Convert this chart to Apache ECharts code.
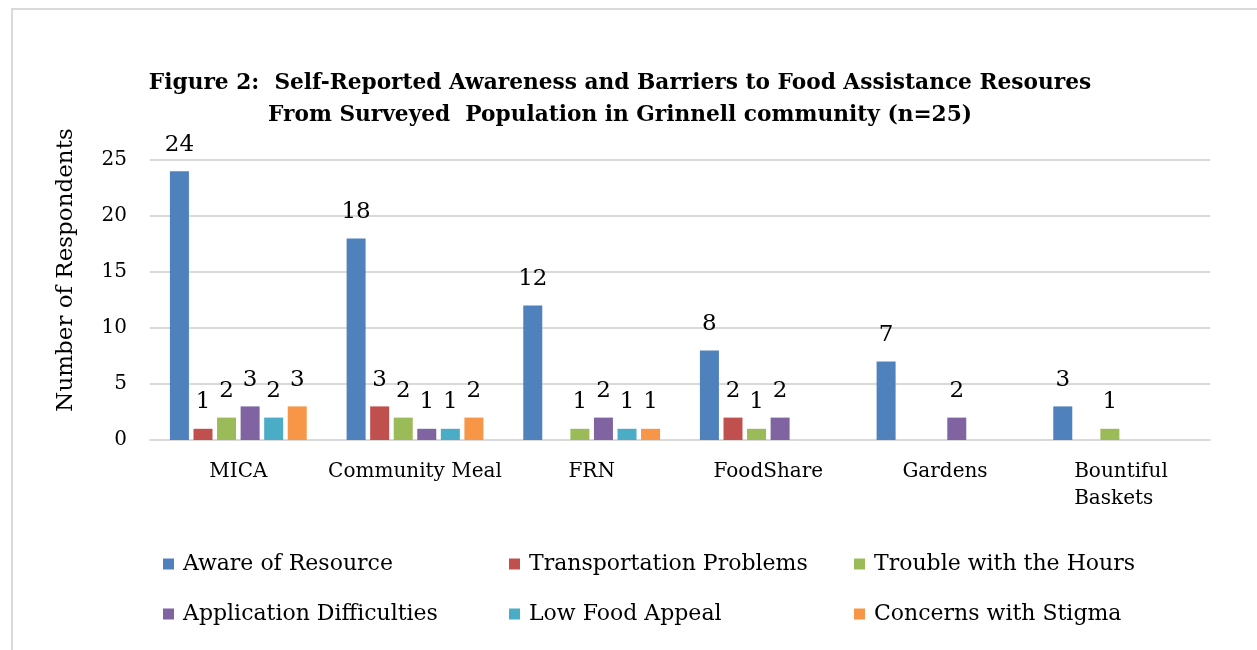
<!DOCTYPE html>
<html><head><meta charset="utf-8">
<script src="https://cdn.jsdelivr.net/npm/echarts@6/dist/echarts.min.js"></script>
<style>
html,body{margin:0;padding:0;background:#fff;}
#frame{position:absolute;left:11px;top:8px;width:1260px;height:660px;border:2px solid #d9d9d9;box-sizing:border-box;}
#c{position:absolute;left:0;top:0;width:1257px;height:650px;}
</style></head>
<body><div id="frame"></div><div id="c"></div>
<script>
const categories = ['MICA','Community Meal','FRN','FoodShare','Gardens','Bountiful\nBaskets'];
const seriesNames = ['Aware of Resource','Transportation Problems','Trouble with the Hours','Application Difficulties','Low Food Appeal','Concerns with Stigma'];
const aware = [24, 18, 12, 8, 7, 3];
const transport = [1, 3, null, 2, null, null];
const hours = [2, 2, 1, 1, null, 1];
const application = [3, 1, 2, 2, 2, null];
const lowAppeal = [2, 1, 1, null, null, null];
const stigma = [3, 2, 1, null, null, null];
const yTicks = [0, 5, 10, 15, 20, 25];
const colors = ['#4F81BD','#C0504D','#9BBB59','#8064A2','#4BACC6','#F79646'];
const values = [aware, transport, hours, application, lowAppeal, stigma];

const FONT = 'DejaVu Serif';
const chart = echarts.init(document.getElementById('c'));
const legendPos = [[163,553],[509,553],[854,553],[163,603],[509,603],[854,603]];
chart.setOption({
  backgroundColor: 'transparent',
  animation: false,
  title: {
    text: 'Figure 2:  Self-Reported Awareness and Barriers to Food Assistance Resoures\nFrom Surveyed  Population in Grinnell community (n=25)',
    left: 620, top: 67, textAlign: 'center', padding: 0,
    textStyle: {fontFamily: FONT, fontWeight: 'bold', fontSize: 21.7, color: '#000', lineHeight: 32}
  },
  legend: seriesNames.map((n, i) => ({
    data: [n], left: legendPos[i][0], top: legendPos[i][1], padding: 0,
    itemWidth: 11, itemHeight: 11, icon: 'rect', itemGap: 0,
    textStyle: {fontFamily: FONT, fontSize: 22, color: '#000', padding: [0,0,0,4]}
  })),
  grid: {left: 150, right: 47, top: 160, bottom: 210, containLabel: false},
  xAxis: {
    type: 'category', data: categories,
    axisLine: {show: true, lineStyle: {color: '#d9d9d9', width: 2}},
    axisTick: {show: false},
    axisLabel: {interval: 0, fontFamily: FONT, fontSize: 20, color: '#000', margin: 18, lineHeight: 27,
      formatter: v => v.indexOf('\n') >= 0 ? v.split('\n').map(s => '{l|' + s + '}').join('\n') : v,
      rich: {l: {fontFamily: FONT, fontSize: 20, color: '#000', width: 95, align: 'left', lineHeight: 27}}
    }
  },
  yAxis: {
    type: 'value', min: yTicks[0], max: yTicks[yTicks.length-1], interval: 5,
    name: 'Number of Respondents', nameLocation: 'middle', nameGap: 72, nameRotate: 90,
    nameTextStyle: {fontFamily: FONT, fontSize: 23, color: '#000', padding: [0,0,0,60]},
    axisLine: {show: false}, axisTick: {show: false},
    axisLabel: {fontFamily: FONT, fontSize: 20, color: '#000', margin: 23},
    splitLine: {lineStyle: {color: '#d9d9d9', width: 2}}
  },
  series: seriesNames.map((n, i) => ({
    name: n, type: 'bar', data: values[i], barWidth: 19, barGap: '24%',
    itemStyle: {color: colors[i]},
    label: {show: true, position: 'top', distance: 15, fontFamily: FONT, fontSize: 23, color: '#000'}
  }))
});
</script></body></html>
